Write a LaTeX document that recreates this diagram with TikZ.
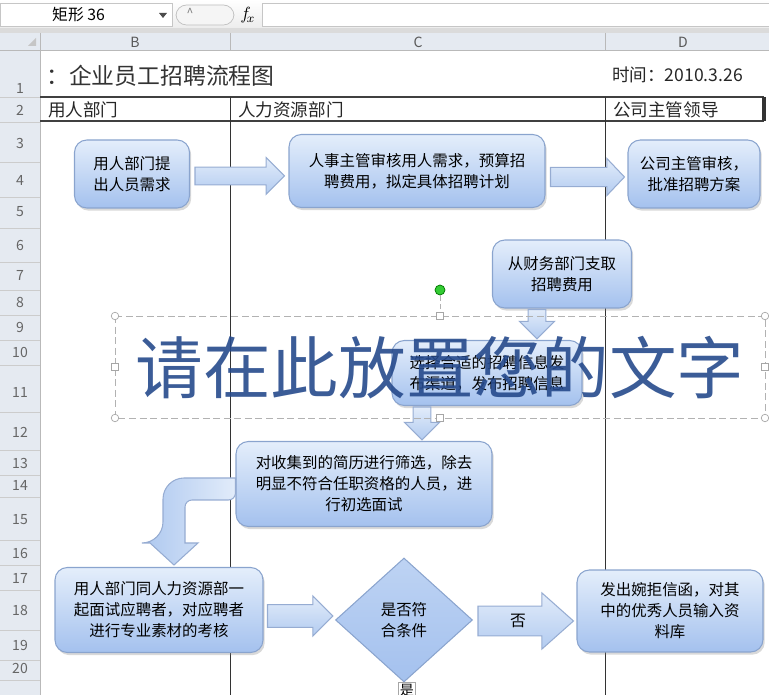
\documentclass[tikz,border=0pt]{standalone}
\usepackage{fontspec}
\setmainfont{Noto Sans CJK SC}
\usepackage{xcolor}
\usepackage{tikz}
\usetikzlibrary{arrows.meta,positioning,shapes.geometric,calc,shadows}

\definecolor{boxtop}{RGB}{228,238,251}
\definecolor{boxbot}{RGB}{164,193,238}
\definecolor{boxedge}{RGB}{138,164,206}
\definecolor{arrtop}{RGB}{226,236,250}
\definecolor{arrbot}{RGB}{178,203,240}
\definecolor{arredge}{RGB}{150,172,210}
\definecolor{headgray}{RGB}{229,234,241}
\definecolor{wmark}{RGB}{38,74,140}

\begin{document}
\begin{tikzpicture}[
  x=0.02cm, y=-0.02cm,
  box/.style={draw=boxedge, line width=0.6pt, rounded corners=7pt, align=center,
    top color=boxtop, bottom color=boxbot, font=\fontsize{8.8}{12}\selectfont,
    drop shadow={shadow xshift=1pt, shadow yshift=-1.5pt, opacity=0.3}},
  decision/.style={diamond, draw=boxedge, line width=0.6pt, align=center, inner sep=0pt,
    top color=boxtop!40!boxbot, bottom color=boxbot, font=\fontsize{8.8}{12}\selectfont},
  bw/.store in=\bw, bh/.store in=\bh, bl/.store in=\bl,
  bw=5pt, bh=10pt, bl=10pt,
  barrow/.style={draw=arredge, line width=0.6pt, top color=arrtop, bottom color=arrbot,
    to path={
      ($(\tikztostart)!\bw!90:(\tikztotarget)$)
      -- ($($(\tikztotarget)!\bl!(\tikztostart)$)!\bw!90:(\tikztotarget)$)
      -- ($($(\tikztotarget)!\bl!(\tikztostart)$)!\bh!90:(\tikztotarget)$)
      -- (\tikztotarget)
      -- ($($(\tikztotarget)!\bl!(\tikztostart)$)!\bh!-90:(\tikztotarget)$)
      -- ($($(\tikztotarget)!\bl!(\tikztostart)$)!\bw!-90:(\tikztotarget)$)
      -- ($(\tikztostart)!\bw!-90:(\tikztotarget)$)
      -- cycle}},
  elbow/.style={draw=arredge, line width=0.6pt, left color=arrbot, right color=arrtop},
  sheet/.style={anchor=west, font=\fontsize{10}{11}\selectfont, text=black!85},
  colhead/.style={font=\fontsize{8}{9}\selectfont, text=black!65},
  rowno/.style={font=\fontsize{8}{9}\selectfont, text=black!60},
  hround/.style={circle, draw=gray!70, fill=white, inner sep=0pt, minimum size=0.15cm},
  hsquare/.style={rectangle, draw=gray!70, fill=white, inner sep=0pt, minimum size=0.15cm},
  hrot/.style={circle, draw=green!45!black, fill=green!60!gray, inner sep=0pt, minimum size=0.2cm}
]
\useasboundingbox (0,0) rectangle (769,695);

\fill[top color=white, bottom color=gray!15] (0,0) rectangle (769,29);
\draw[gray!45, fill=white] (0,3) rectangle (172,26);
\node[anchor=west, font=\fontsize{9}{10}\selectfont] (namebox) at (46,15) {矩形 36};
\fill[black!70] (159,13) -- (167,13) -- (163,18) -- cycle;
\draw[gray!50, fill=gray!8, rounded corners=6pt] (176,5) rectangle (234,25);
\node[font=\fontsize{7}{8}\selectfont, text=gray] (grip) at (190,13) {\^{}};
\node (fx) at (248,15) {$f_{\!x}$};
\draw[gray!45, fill=white] (262,3) rectangle (769,26);
\fill[gray!28] (0,28) rectangle (769,33);
\fill[headgray] (0,33) rectangle (769,50);
\fill[headgray] (0,50) rectangle (40,695);
\draw[gray!55] (0,50) -- (769,50);
\foreach \x in {40,230,605}
  \draw[gray!55] (\x,33) -- (\x,50);
\draw[gray!55] (40,50) -- (40,695);
\fill[gray!45] (36,46) -- (36,38) -- (28,46) -- cycle;
\node[colhead] (colB) at (135,42) {B};
\node[colhead] (colC) at (418,42) {C};
\node[colhead] (colD) at (683,42) {D};
\foreach \y in {97,122,162,197,228,262,290,315,340,365,412,450,475,497,540,565,590,630,660,680}
  \draw[gray!40] (0,\y) -- (40,\y);
\foreach \r/\y in {1/88,2/110,3/143,4/180,5/212,6/245,7/275,8/302,9/327,10/352,11/392,12/432,13/463,14/485,15/520,16/553,17/578,18/610,19/645,20/668}
  \node[rowno] (row\r) at (20,\y) {\r};

\node[anchor=west, font=\fontsize{13}{14}\selectfont, text=black!80] (title) at (40,76) {：企业员工招聘流程图};
\node[sheet] (date) at (606,75) {时间：2010.3.26};
\draw[black!75, line width=0.9pt] (40,97) -- (764,97);
\draw[black!75, line width=0.9pt] (40,121) -- (764,121);
\draw[black!80, line width=2pt] (764,97) -- (764,121);
\draw[black!80] (230,97) -- (230,695);
\draw[black!80] (605,97) -- (605,695);
\node[sheet] (laneA) at (42,110) {用人部门};
\node[sheet] (laneB) at (232,110) {人力资源部门};
\node[sheet] (laneC) at (607,110) {公司主管领导};

\node[box, minimum width=2.3cm, minimum height=1.36cm] (need) at (132,174) {用人部门提\\出人员需求};
\node[box, minimum width=5.12cm, minimum height=1.46cm] (plan) at (417,171) {人事主管审核用人需求，预算招\\聘费用，拟定具体招聘计划};
\node[box, minimum width=2.64cm, minimum height=1.36cm] (approve) at (694,174) {公司主管审核，\\批准招聘方案};
\node[box, minimum width=2.78cm, minimum height=1.36cm] (fund) at (562,274) {从财务部门支取\\招聘费用};
\node[box, minimum width=3.8cm, minimum height=1.3cm] (publish) at (487,373) {选择合适的招聘信息发\\布渠道，发布招聘信息};
\node[box, minimum width=5.12cm, minimum height=1.7cm] (screen) at (364,484) {对收集到的简历进行筛选，除去\\明显不符合任职资格的人员，进\\行初选面试};
\node[box, minimum width=4.16cm, minimum height=1.7cm] (interview) at (159,610) {用人部门同人力资源部一\\起面试应聘者，对应聘者\\进行专业素材的考核};
\node[decision, minimum width=2.74cm, minimum height=2.48cm] (choice) at (404,620) {是否符\\合条件};
\node[box, minimum width=3.72cm, minimum height=1.64cm] (reject) at (670,611) {发出婉拒信函，对其\\中的优秀人员输入资\\料库};
\node[draw=gray!70, fill=white, anchor=north, inner sep=1pt, font=\fontsize{8}{9}\selectfont] (yes) at (407,682) {是};

\coordinate (a1s) at ($(need.east)+(5,2)$);
\coordinate (a1t) at ($(a1s -| plan.west)+(-4,0)$);
\coordinate (a2s) at ($(plan.east)+(5,6)$);
\coordinate (a2t) at ($(a2s -| approve.west)+(-3,0)$);
\coordinate (a3s) at ($(fund.south)+(-25,1)$);
\coordinate (a3t) at ($(a3s |- publish.north)+(0,-1)$);
\coordinate (a4s) at ($(publish.south)+(-65,1)$);
\coordinate (a4t) at ($(a4s |- screen.north)+(0,-1)$);
\coordinate (a6s) at ($(interview.east)+(4,6)$);
\coordinate (a6t) at ($(a6s -| choice.west)+(-2,0)$);
\coordinate (a7s) at ($(choice.east)+(5,1)$);
\coordinate (a7t) at ($(a7s -| reject.west)+(-3,0)$);
\coordinate (b1) at ($(screen.west)+(0,5)$);
\coordinate (b2) at ($(interview.north)+(15,-2)$);

\draw[barrow, bw=5pt, bh=10.5pt, bl=10.5pt] (a1s) to (a1t);
\draw[barrow, bw=5.5pt, bh=10.5pt, bl=10pt] (a2s) to (a2t);
\draw[barrow, bw=5pt, bh=10pt, bl=10pt] (a3s) to (a3t);
\draw[barrow, bw=5pt, bh=10pt, bl=10pt] (a4s) to (a4t);
\draw[barrow, bw=6.5pt, bh=11.5pt, bl=11.5pt] (a6s) to (a6t);
\draw[barrow, bw=8.5pt, bh=16pt, bl=18pt] (a7s) to (a7t);
\node[font=\fontsize{9}{10}\selectfont] (no) at ($(a7s)!0.42!(a7t)$) {否};
\draw[elbow] ($(b1)+(0,-11)$) [rounded corners=12pt] -| ($(b2)+(-11,-22)$)
  [sharp corners] -- ($(b2)+(-24,-22)$) -- (b2) -- ($(b2)+(24,-22)$) -- ($(b2)+(11,-22)$)
  [rounded corners=4pt] |- ($(b1)+(0,11)$) [sharp corners] -- cycle;

\node[font=\fontsize{38.5}{40}\selectfont, text=wmark, text opacity=0.9] (wm) at (440,368) {请在此放置您的文字};
\draw[gray!60, dash pattern=on 4pt off 2pt] (115,316) rectangle (765,418);
\foreach \n/\x/\y in {1/115/316,2/765/316,3/115/418,4/765/418}
  \node[hround] (hr\n) at (\x,\y) {};
\foreach \n/\x/\y in {1/440/316,2/440/418,3/115/367,4/765/367}
  \node[hsquare] (hs\n) at (\x,\y) {};
\node[hrot] (rot) at (440,290) {};
\draw[gray!60, densely dashed] (rot) -- (hs1);
\end{tikzpicture}
\end{document}
